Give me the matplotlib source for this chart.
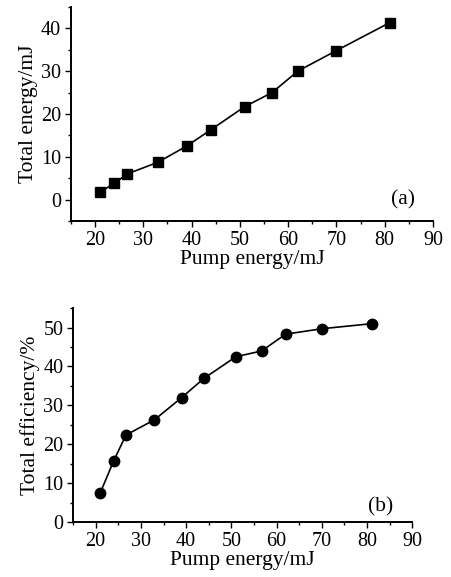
import matplotlib
matplotlib.use("Agg")
import matplotlib.pyplot as plt
from matplotlib.ticker import MultipleLocator

pump = [21, 24, 26.7, 33, 39, 44, 51, 56.7, 62, 70, 81]
total_energy = [1.7, 3.8, 6.0, 8.7, 12.5, 16.3, 21.7, 25.0, 30.0, 34.8, 41.3]
efficiency = [7.5, 15.8, 22.4, 26.3, 32.0, 37.0, 42.5, 44.0, 48.3, 49.7, 51.0]

plt.rcParams['font.family'] = ['Liberation Serif', 'DejaVu Serif']
fs_tick = 14.5
fs_lab = 15.5

fig = plt.figure(figsize=(4.51, 5.77), dpi=100)
ax1 = fig.add_axes([0.157, 0.617, 0.803, 0.371])
ax2 = fig.add_axes([0.162, 0.095, 0.752, 0.371])

def style(ax):
    for s in ['top', 'right']:
        ax.spines[s].set_visible(False)
    for s in ['left', 'bottom']:
        ax.spines[s].set_linewidth(1.4)
    ax.xaxis.set_major_locator(MultipleLocator(10))
    ax.xaxis.set_minor_locator(MultipleLocator(5))
    ax.yaxis.set_major_locator(MultipleLocator(10))
    ax.yaxis.set_minor_locator(MultipleLocator(5))
    ax.tick_params(which='major', direction='out', length=4, width=1, labelsize=fs_tick, pad=3)
    ax.tick_params(which='minor', direction='out', length=2.5, width=1)
    ax.set_xlim(15, 90)

ax1.plot(pump, total_energy, color='black', lw=1.2, marker='s', ms=7.5)
style(ax1)
ax1.set_ylim(-5, 45)
ax1.set_xlabel('Pump energy/mJ', fontsize=fs_lab, labelpad=0)
ax1.set_ylabel('Total energy/mJ', fontsize=fs_lab, labelpad=2)
ax1.text(0.95, 0.1, '(a)', transform=ax1.transAxes, ha='right', va='center', fontsize=fs_lab)

ax2.plot(pump, efficiency, color='black', lw=1.2, marker='o', ms=7.5)
style(ax2)
ax2.set_ylim(0, 55)
ax2.set_xlabel('Pump energy/mJ', fontsize=fs_lab, labelpad=0)
ax2.set_ylabel('Total efficiency/%', fontsize=fs_lab, labelpad=2)
ax2.text(0.945, 0.07, '(b)', transform=ax2.transAxes, ha='right', va='center', fontsize=fs_lab)

fig.savefig('out.png', dpi=100)
